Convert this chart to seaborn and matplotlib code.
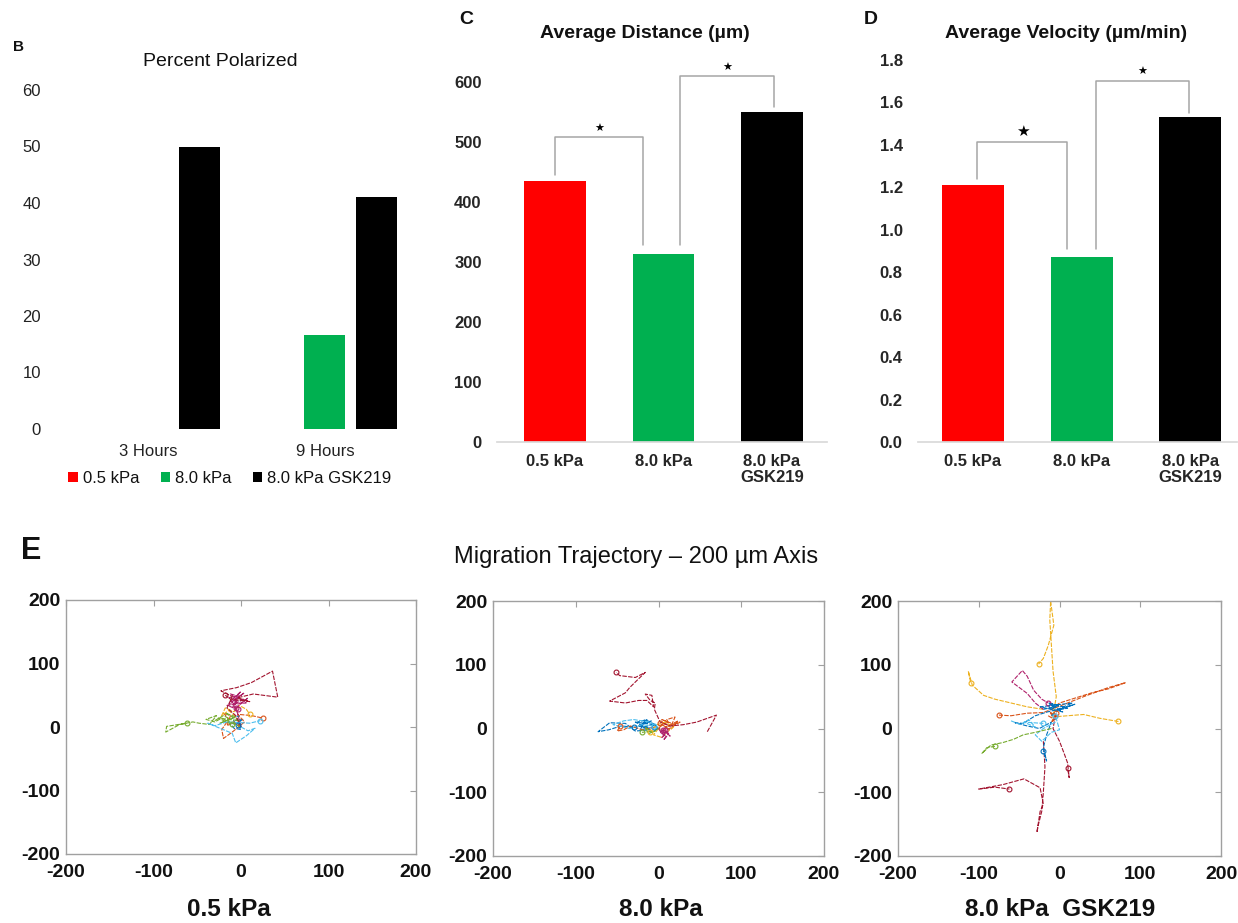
import pandas as pd
import seaborn as sns
import matplotlib.pyplot as plt

# ---- data ----
times = ['3 Hours', '9 Hours']
conditions = ['0.5 kPa', '8.0 kPa', '8.0 kPa GSK219']
polarized_3h = [0, 0, 50]
polarized_9h = [0, 16.7, 41]

groups = ['0.5 kPa', '8.0 kPa', '8.0 kPa\nGSK219']
avg_distance = [435, 313, 550]
avg_velocity = [1.21, 0.87, 1.53]

bar_colors = ['#FF0000', '#00B050', '#000000']

# matlab default line colours
traj_colors = {'blue': '#0072BD', 'orange': '#D95319', 'yellow': '#EDB120',
               'purple': '#B0206A', 'green': '#77AC30', 'cyan': '#4DBEEE',
               'darkred': '#A2142F'}

# trajectories (um), one list of (x, y) per cell
soft_tracks = {
    'blue': [(0, 0), (-4, 6), (2, 12), (-6, 10), (-2, 18), (-10, 14), (-6, 4), (-14, 8), (-8, -2), (0, -4), (-3, 3)],
    'orange': [(0, 0), (-8, 8), (-16, 2), (-12, 18), (-20, 22), (-14, 12), (-22, -4), (-20, -18), (-10, -8), (4, 8), (-4, 20), (12, 18), (25, 14)],
    'yellow': [(0, 0), (-6, 16), (-14, 26), (-22, 18), (-18, 30), (-8, 24), (-2, 34), (6, 28), (10, 20)],
    'purple': [(0, 0), (-4, 22), (-10, 40), (-2, 48), (-12, 52), (-6, 44), (4, 54), (-14, 36), (2, 38), (8, 46), (-6, 30)],
    'purple2': [(-10, 30), (-4, 42), (-14, 46), (-2, 50), (-8, 36), (4, 44), (-12, 40), (0, 56), (-6, 48), (6, 38), (-16, 34), (-4, 28)],
    'green': [(0, 0), (-10, 6), (-22, 14), (-30, 8), (-40, 12), (-28, 18), (-36, 4), (-48, 6), (-55, 8), (-70, 4), (-86, -8), (-85, 1), (-62, 6)],
    'green2': [(-30, 10), (-20, 18), (-12, 12), (-24, 6), (-6, 16), (-18, 22), (-2, 10), (-26, 14), (-10, 4)],
    'cyan': [(0, 0), (8, -6), (16, -2), (6, -14), (-6, -25), (-10, -10), (-24, -2), (-38, 6), (-30, 2), (-16, 8), (10, 6), (22, 10)],
    'darkred': [(0, 0), (-6, 18), (-16, 30), (-10, 48), (-23, 57), (-5, 62), (12, 70), (36, 88), (42, 47), (14, 52), (-4, 46), (10, 40), (-12, 44), (-18, 50)],
}

stiff_tracks = {
    'blue': [(0, 0), (-8, 6), (-18, 2), (-26, 10), (-14, 14), (-22, 4), (-10, -2), (-28, -4), (-40, 8), (-59, 9), (-73, -5), (-60, -2), (-45, 4), (-30, 2)],
    'blue2': [(-20, 8), (-8, 12), (-24, 4), (-12, 0), (-28, 10), (-4, 6), (-16, 14), (-22, -2), (-6, 2)],
    'cyan': [(0, 0), (-10, 10), (-20, 12), (-30, 14), (-42, 12), (-55, 6), (-35, 0), (-20, 6), (-6, 4)],
    'orange': [(0, 0), (6, 8), (14, 4), (10, 14), (20, 18), (16, 6), (26, 10), (8, -4), (-4, 2), (-20, -2), (-34, 4), (-42, -2), (-50, -4), (-46, 4)],
    'orange2': [(0, 4), (12, 10), (4, 14), (20, 6), (8, 2), (24, 12), (14, -2), (2, 8)],
    'yellow': [(0, 0), (-6, -10), (4, -14), (12, -4), (18, 2), (8, 10), (-2, 6), (-10, -6)],
    'purple': [(0, 0), (4, -8), (10, -12), (6, -18), (12, -8), (2, -4), (8, -2)],
    'purple2': [(2, -6), (8, -10), (4, -14), (10, -4), (14, -12), (6, -2)],
    'green': [(0, 0), (-8, -6), (-16, 2), (-12, -8), (-4, -4), (-20, -6)],
    'darkred': [(59, -5), (70, 21), (46, 10), (30, 6), (14, 4), (2, 10), (-5, 30), (-4, 40), (-10, 44), (-16, 54), (-8, 52), (-6, 34), (-14, 44), (-24, 44),
                (-40, 40), (-59, 43), (-40, 56), (-35, 64), (-24, 78), (-16, 88), (-28, 80), (-47, 83), (-51, 88)],
}

gsk_tracks = {
    'yellow1': [(-8, 20), (-4, 50), (-8, 90), (-10, 130), (-12, 170), (-11, 200), (-7, 162), (-14, 130), (-20, 110), (-26, 101)],
    'yellow2': [(-20, 30), (-40, 34), (-60, 40), (-80, 46), (-94, 52), (-108, 68), (-113, 90), (-110, 72)],
    'yellow3': [(-10, 18), (10, 20), (30, 22), (50, 16), (73, 11)],
    'orange': [(-10, 30), (0, 40), (20, 48), (40, 56), (60, 62), (82, 72), (60, 64), (30, 50), (-20, 25), (-40, 24), (-60, 20), (-75, 21)],
    'orange2': [(-14, 20), (-6, 14), (-12, 26), (-2, 18), (-10, 10), (-4, 24)],
    'darkred1': [(-20, -20), (-18, -60), (-20, -100), (-22, -130), (-26, -150), (-28, -163), (-24, -130), (-20, -119), (-24, -93),
                 (-44, -79), (-70, -88), (-100, -95), (-80, -92), (-62, -95)],
    'darkred2': [(-5, 20), (-8, 0), (0, -20), (6, -40), (10, -54), (12, -77), (10, -62)],
    'purple': [(-20, 30), (-30, 40), (-40, 55), (-59, 73), (-46, 91), (-40, 82), (-32, 60), (-22, 46), (-14, 40)],
    'blue': [(-10, 20), (0, 30), (19, 38), (5, 32), (-15, 26), (-30, 20), (-45, 8), (-55, 9), (-40, 4), (-25, 0), (-10, 10),
             (-16, -10), (-20, -30), (-16, -51), (-20, -35)],
    'blue2': [(-20, 30), (0, 36), (-14, 40), (10, 32), (-6, 28), (16, 40), (-24, 34), (4, 26), (-10, 36)],
    'cyan': [(-5, 10), (-20, 0), (-30, -10), (-22, -20), (-10, -6), (0, -2), (-5, 20)],
    'cyan2': [(-60, 12), (-48, 6), (-38, 14), (-30, 2), (-44, 10), (-20, 8)],
    'green': [(-10, 0), (-30, -6), (-45, -10), (-57, -17), (-70, -22), (-85, -26), (-96, -39), (-90, -30), (-80, -28)],
}

# ---- style ----
sns.set_theme(style='white')
plt.rcParams['font.family'] = ['Liberation Sans', 'DejaVu Sans']
plt.rcParams['text.color'] = '#111111'
plt.rcParams['axes.unicode_minus'] = False

fig = plt.figure(figsize=(12.38, 9.23), dpi=100)


def px_box(left, top, right, bottom):
    W, H = 1238, 923
    return [left / W, 1 - bottom / H, (right - left) / W, (bottom - top) / H]


def ftext(x, y, s, **kw):
    fig.text(x / 1238, 1 - y / 923, s, ha='center', va='center', **kw)


# ---- B: percent polarized ----
axB = fig.add_axes(px_box(55, 90, 405, 429))
pol = pd.DataFrame({'time': [t for t in times for _ in conditions],
                    'condition': conditions * 2,
                    'value': polarized_3h + polarized_9h})
sns.barplot(data=pol, x='time', y='value', hue='condition', palette=bar_colors,
            saturation=1, width=0.88, gap=0.21, linewidth=0, ax=axB)
axB.set_xlim(-0.525, 1.452)
axB.set_ylim(0, 60)
axB.set_yticks(range(0, 61, 10))
axB.set_xlabel('')
axB.set_ylabel('')
sns.despine(ax=axB, left=True, bottom=True)
axB.tick_params(length=0, labelsize=12, colors='#222222')
axB.tick_params(axis='x', pad=11)
axB.tick_params(axis='y', pad=10)
sns.move_legend(axB, 'center', bbox_to_anchor=(0.5, -0.147), ncol=3, frameon=False,
                title=None, fontsize=12, handlelength=0.55, handleheight=0.55,
                handletextpad=0.3, columnspacing=1.3)
ftext(220, 62, 'Percent Polarized', fontsize=14)
ftext(19, 47, 'B', fontsize=11, fontweight='heavy')


# ---- C and D ----
def draw_bracket(ax, x0, x1, top, y0, y1, star_y, star_size):
    ax.plot([x0, x0, x1, x1], [y0, top, top, y1], color='#a6a6a6', lw=1.1, clip_on=False)
    ax.text((x0 + x1) / 2, star_y, '\u2605', ha='center', va='center',
            fontsize=star_size, family='DejaVu Sans', color='black')


def summary_bars(ax, values, ylim, yticks, fmt):
    sns.barplot(x=groups, y=values, hue=groups, palette=bar_colors, saturation=1,
                width=0.57, linewidth=0, legend=False, ax=ax)
    ax.set_ylim(*ylim)
    ax.set_yticks(yticks)
    ax.set_yticklabels([fmt.format(v) for v in yticks])
    sns.despine(ax=ax, left=True)
    ax.spines['bottom'].set_color('#d9d9d9')
    ax.tick_params(length=0, labelsize=12)
    ax.tick_params(axis='x', pad=9)
    ax.tick_params(axis='y', pad=11)
    for lab in ax.get_xticklabels() + ax.get_yticklabels():
        lab.set_fontweight('bold')
        lab.set_linespacing(1.05)


axC = fig.add_axes(px_box(497, 58, 827, 442))
summary_bars(axC, avg_distance, (0, 640), list(range(0, 601, 100)), '{:d}')
axC.set_xlim(-0.535, 2.507)
draw_bracket(axC, 0.0, 0.81, 508, avg_distance[0] + 10, avg_distance[1] + 15, 522, 8)
draw_bracket(axC, 1.15, 2.02, 610, avg_distance[1] + 15, avg_distance[2] + 8, 623, 8)
ftext(645, 34, 'Average Distance (\u00b5m)', fontsize=14, fontweight='bold')
ftext(466, 20, 'C', fontsize=14, fontweight='heavy')

axD = fig.add_axes(px_box(918, 49, 1237, 442))
vt = [round(0.2 * i, 1) for i in range(10)]
summary_bars(axD, avg_velocity, (0, 1.85), vt, '{:.1f}')
axD.set_xlim(-0.505, 2.43)
draw_bracket(axD, 0.04, 0.87, 1.41, avg_velocity[0] + 0.03, avg_velocity[1] + 0.04, 1.46, 11)
draw_bracket(axD, 1.13, 1.99, 1.70, avg_velocity[1] + 0.04, avg_velocity[2] + 0.02, 1.74, 8)
ftext(1066, 34, 'Average Velocity (\u00b5m/min)', fontsize=14, fontweight='bold')
ftext(871, 20, 'D', fontsize=14, fontweight='heavy')


# ---- E: trajectories ----
def tracks_df(tracks):
    rows = []
    for name, pts in tracks.items():
        for i, (x, y) in enumerate(pts):
            rows.append({'track': name, 'step': i, 'x': x, 'y': y})
    return pd.DataFrame(rows)


def traj_panel(ax, tracks, label, label_x):
    df = tracks_df(tracks)
    pal = {n: traj_colors[n.rstrip('0123456789')] for n in tracks}
    sns.lineplot(data=df, x='x', y='y', hue='track', palette=pal, sort=False,
                 estimator=None, legend=False, lw=0.8, linestyle=(0, (4, 1.2)), ax=ax)
    for n, pts in tracks.items():
        ax.plot(pts[-1][0], pts[-1][1], 'o', mfc='none', mec=pal[n], ms=3.5, mew=0.8)
    ax.set_xlim(-200, 200)
    ax.set_ylim(-200, 200)
    ax.set_xticks([-200, -100, 0, 100, 200])
    ax.set_yticks([-200, -100, 0, 100, 200])
    ax.set_xlabel('')
    ax.set_ylabel('')
    for s in ax.spines.values():
        s.set_visible(True)
        s.set_color('#a0a0a0')
        s.set_linewidth(1.0)
    ax.tick_params(direction='in', length=4, width=0.8, color='#a0a0a0',
                   top=True, right=True, labelsize=14, labelcolor='#111111')
    ax.tick_params(axis='x', pad=7)
    ax.tick_params(axis='y', pad=4)
    for lab in ax.get_xticklabels() + ax.get_yticklabels():
        lab.set_fontweight('bold')
    ftext(label_x, 910, label, fontsize=17.5, fontweight='bold')


ax1 = fig.add_axes(px_box(66, 600, 416, 854))
traj_panel(ax1, soft_tracks, '0.5 kPa', 229)
ax2 = fig.add_axes(px_box(493, 601, 824, 856))
traj_panel(ax2, stiff_tracks, '8.0 kPa', 661)
ax3 = fig.add_axes(px_box(898, 601, 1221, 856))
traj_panel(ax3, gsk_tracks, '8.0 kPa  GSK219', 1060)

ftext(636, 557, 'Migration Trajectory \u2013 200 \u00b5m Axis', fontsize=17)
ftext(31, 551, 'E', fontsize=22, fontweight='heavy')

fig.savefig('out.png', dpi=100)
